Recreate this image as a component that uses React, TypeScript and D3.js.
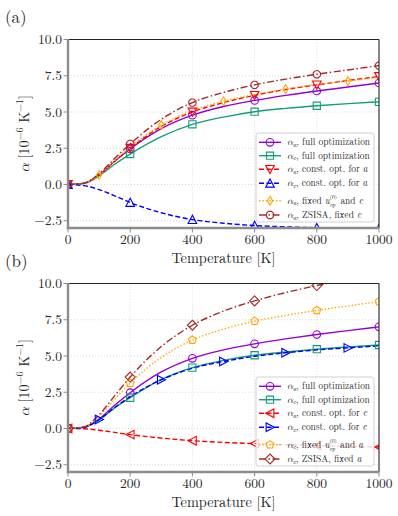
import React from "react";
import * as d3 from "d3";

// ---------- data ----------
const temps = [0, 50, 100, 150, 200, 300, 400, 500, 600, 700, 800, 900, 1000];

// panel (a)
const aPurple = [0, 0.08, 0.65, 1.6, 2.45, 3.85, 4.78, 5.38, 5.8, 6.15, 6.45, 6.72, 7.0];
const aGreen = [0, 0.07, 0.6, 1.4, 2.1, 3.3, 4.15, 4.65, 5.02, 5.25, 5.43, 5.58, 5.7];
const aRed = [0, 0.08, 0.66, 1.6, 2.5, 4.0, 5.0, 5.65, 6.15, 6.55, 6.87, 7.17, 7.45];
const aBlue = [0, -0.08, -0.35, -0.78, -1.24, -1.95, -2.42, -2.67, -2.83, -2.92, -2.98, -3.02, -3.05];
const aOrange = [0, 0.08, 0.65, 1.65, 2.6, 4.1, 5.1, 5.75, 6.2, 6.58, 6.9, 7.13, 7.4];
const aBrown = [0, 0.09, 0.75, 1.8, 2.8, 4.5, 5.65, 6.35, 6.87, 7.27, 7.6, 7.9, 8.2];

// panel (b)
const bPurple = [0, 0.08, 0.65, 1.6, 2.47, 3.9, 4.84, 5.42, 5.84, 6.18, 6.48, 6.75, 7.01];
const bGreen = [0, 0.07, 0.6, 1.42, 2.12, 3.38, 4.2, 4.7, 5.05, 5.28, 5.47, 5.62, 5.76];
const bRed = [0, -0.02, -0.12, -0.27, -0.42, -0.66, -0.84, -0.96, -1.04, -1.11, -1.17, -1.23, -1.28];
const bBlue = [0, 0.07, 0.62, 1.45, 2.2, 3.36, 4.15, 4.62, 4.98, 5.22, 5.42, 5.56, 5.7];
const bOrange = [0, 0.1, 0.85, 2.0, 3.13, 4.9, 6.1, 6.85, 7.4, 7.8, 8.15, 8.45, 8.75];
const bBrown = [0, 0.1, 0.95, 2.25, 3.55, 5.65, 7.12, 8.1, 8.8, 9.37, 9.86, 10.25, 10.6];

const markEven = [0, 200, 400, 600, 800, 1000];
const markOdd = [100, 300, 500, 700, 900];

const xTicks = [0, 200, 400, 600, 800, 1000];
const yTicks = [-2.5, 0, 2.5, 5, 7.5, 10];

type Series = {
  values: number[];
  color: string;
  dash: string;
  marker: string;
  ms: number;
  markAt: number[];
  sub: string;
  text: string;
  fixedU?: string;
};

const seriesA: Series[] = [
  { values: aPurple, color: "#9400d3", dash: "", marker: "o", ms: 3.8, markAt: markEven, sub: "a", text: "full optimization" },
  { values: aGreen, color: "#149e77", dash: "", marker: "s", ms: 3.6, markAt: markEven, sub: "c", text: "full optimization" },
  { values: aRed, color: "#ff0000", dash: "5,2.5", marker: "v", ms: 4.3, markAt: markEven, sub: "a", text: "const. opt. for a" },
  { values: aBlue, color: "#0000ff", dash: "5,2.5", marker: "^", ms: 4.3, markAt: markEven, sub: "c", text: "const. opt. for a" },
  { values: aOrange, color: "#ffa500", dash: "1.4,2", marker: "d", ms: 4.4, markAt: markOdd, sub: "a", text: "", fixedU: "c" },
  { values: aBrown, color: "#a52a2a", dash: "7,2.5,1.5,2.5", marker: "8", ms: 3.9, markAt: markEven, sub: "a", text: "ZSISA, fixed c" },
];

const seriesB: Series[] = [
  { values: bPurple, color: "#9400d3", dash: "", marker: "o", ms: 3.8, markAt: markEven, sub: "a", text: "full optimization" },
  { values: bGreen, color: "#149e77", dash: "", marker: "s", ms: 3.6, markAt: markEven, sub: "c", text: "full optimization" },
  { values: bRed, color: "#ff0000", dash: "5,2.5", marker: "<", ms: 4.3, markAt: markEven, sub: "a", text: "const. opt. for c" },
  { values: bBlue, color: "#0000ff", dash: "5,2.5", marker: ">", ms: 4.3, markAt: markOdd, sub: "c", text: "const. opt. for c" },
  { values: bOrange, color: "#ffa500", dash: "1.4,2", marker: "p", ms: 4.1, markAt: markEven, sub: "c", text: "", fixedU: "a" },
  { values: bBrown, color: "#a52a2a", dash: "7,2.5,1.5,2.5", marker: "D", ms: 5.0, markAt: markEven, sub: "c", text: "ZSISA, fixed a" },
];

// ---------- helpers ----------
const FONT = "'Latin Modern Roman', 'Liberation Serif', serif";
const GREEK = "'Latin Modern Math', 'Latin Modern Roman', 'DejaVu Serif', serif";
const TXT = "#262626";

function polyPath(cx: number, cy: number, pts: [number, number][]) {
  return "M" + pts.map(([x, y]) => `${(cx + x).toFixed(2)},${(cy + y).toFixed(2)}`).join("L") + "Z";
}

function markerPath(type: string, cx: number, cy: number, r: number): string {
  switch (type) {
    case "o":
      return `M${cx - r},${cy}a${r},${r} 0 1,0 ${2 * r},0a${r},${r} 0 1,0 ${-2 * r},0Z`;
    case "s":
      return polyPath(cx, cy, [[-r, -r], [r, -r], [r, r], [-r, r]]);
    case "v":
      return polyPath(cx, cy, [[-r, -r * 0.9], [r, -r * 0.9], [0, r]]);
    case "^":
      return polyPath(cx, cy, [[-r, r * 0.9], [r, r * 0.9], [0, -r]]);
    case "<":
      return polyPath(cx, cy, [[r * 0.9, -r], [r * 0.9, r], [-r, 0]]);
    case ">":
      return polyPath(cx, cy, [[-r * 0.9, -r], [-r * 0.9, r], [r, 0]]);
    case "d":
      return polyPath(cx, cy, [[0, -r], [r * 0.6, 0], [0, r], [-r * 0.6, 0]]);
    case "D":
      return polyPath(cx, cy, [[0, -r], [r, 0], [0, r], [-r, 0]]);
    case "p": {
      const pts: [number, number][] = [];
      for (let i = 0; i < 5; i++) {
        const a = -Math.PI / 2 + (i * 2 * Math.PI) / 5;
        pts.push([r * Math.cos(a), r * Math.sin(a)]);
      }
      return polyPath(cx, cy, pts);
    }
    case "8": {
      const pts: [number, number][] = [];
      for (let i = 0; i < 8; i++) {
        const a = Math.PI / 8 + (i * 2 * Math.PI) / 8;
        pts.push([r * Math.cos(a), r * Math.sin(a)]);
      }
      return polyPath(cx, cy, pts);
    }
  }
  return "";
}

function LegendLabel({ s, x, y }: { s: Series; x: number; y: number }) {
  return (
    <text x={x} y={y + 3.1} fontFamily={FONT} fontSize={9.4} fill={TXT}>
      <tspan fontFamily={GREEK} fontStyle="italic">α</tspan>
      <tspan fontSize={6.5} fontStyle="italic" dy={1.6}>{s.sub}</tspan>
      <tspan dy={-1.6}>, </tspan>
      {s.fixedU ? (
        <>
          <tspan>fixed </tspan>
          <tspan fontStyle="italic">u</tspan>
          <tspan fontSize={5.6} dy={-4.4}>(0)</tspan>
          <tspan fontSize={5.6} fontStyle="italic" dx={-7.2} dy={7.3}>op</tspan>
          <tspan dx={1.8} dy={-2.9}> and </tspan>
          <tspan fontStyle="italic">{s.fixedU}</tspan>
        </>
      ) : (
        <>
          <tspan>{s.text.replace(/ [ac]$/, " ")}</tspan>
          {/ [ac]$/.test(s.text) ? <tspan fontStyle="italic">{s.text.slice(-1)}</tspan> : null}
        </>
      )}
    </text>
  );
}

function Panel({ top, series, label, id }: { top: number; series: Series[]; label: string; id: string }) {
  const left = 68;
  const right = 379;
  const y10 = top;
  const unit = 14.5;
  const x = d3.scaleLinear().domain([0, 1000]).range([left, right]);
  const y = d3.scaleLinear().domain([-3, 10]).range([y10 + 13 * unit, y10]);
  const bottom = y(-3);
  const line = d3
    .line<number>()
    .x((_, i) => x(temps[i]))
    .y((d) => y(d))
    .curve(d3.curveMonotoneX);

  const legTop = bottom - 95;
  const legRows = [9.3, 22.7, 36.3, 50.3, 67.7, 82];

  return (
    <g>
      <text x={5} y={top - 16.5} fontFamily={FONT} fontSize={17} fill={TXT}>
        {label}
      </text>
      <defs>
        <clipPath id={id}>
          <rect x={left} y={y10} width={right - left} height={bottom - y10} />
        </clipPath>
      </defs>
      {/* grid */}
      {xTicks.slice(1, -1).map((t) => (
        <line key={"gx" + t} x1={x(t)} x2={x(t)} y1={y10} y2={bottom} stroke="#cfcfcf" strokeWidth={0.8} strokeDasharray="1,2" />
      ))}
      {yTicks.slice(0, -1).map((t) => (
        <line key={"gy" + t} x1={left} x2={right} y1={y(t)} y2={y(t)} stroke="#cfcfcf" strokeWidth={0.8} strokeDasharray="1,2" />
      ))}
      {/* series */}
      <g clipPath={`url(#${id})`}>
        {series.map((s, i) => (
          <path key={"l" + i} d={line(s.values) || ""} fill="none" stroke={s.color} strokeWidth={1.4} strokeDasharray={s.dash || undefined} />
        ))}
        {series.map((s, i) =>
          s.markAt.map((t) => {
            const idx = temps.indexOf(t);
            return (
              <path key={"m" + i + "-" + t} d={markerPath(s.marker, x(t), y(s.values[idx]), s.ms)} fill="none" stroke={s.color} strokeWidth={1.1} />
            );
          })
        )}
      </g>
      {/* spines */}
      <line x1={left} x2={right} y1={y10} y2={y10} stroke="#222" strokeWidth={1.1} />
      <line x1={right} x2={right} y1={y10} y2={bottom} stroke="#222" strokeWidth={1.1} />
      <line x1={left} x2={left} y1={y10 - 0.5} y2={bottom + 1.2} stroke="#8c8c8c" strokeWidth={2.4} />
      <line x1={left - 1.2} x2={right} y1={bottom} y2={bottom} stroke="#8c8c8c" strokeWidth={2.4} />
      {/* ticks */}
      {yTicks.map((t) => (
        <g key={"ty" + t}>
          <line x1={left - 4.5} x2={left} y1={y(t)} y2={y(t)} stroke="#8c8c8c" strokeWidth={1} />
          <text x={left - 6} y={y(t) + 4.6} textAnchor="end" fontFamily={FONT} fontSize={13.5} fill={TXT}>
            {t < 0 ? "−" + Math.abs(t).toFixed(1) : t.toFixed(1)}
          </text>
        </g>
      ))}
      {xTicks.map((t) => (
        <g key={"tx" + t}>
          <line x1={x(t)} x2={x(t)} y1={bottom} y2={bottom + 4.5} stroke="#8c8c8c" strokeWidth={1} />
          <text x={x(t)} y={bottom + 15.5} textAnchor="middle" fontFamily={FONT} fontSize={13.5} fill={TXT}>
            {t}
          </text>
        </g>
      ))}
      {/* axis labels */}
      <text x={(left + right) / 2} y={bottom + 35} textAnchor="middle" fontFamily={FONT} fontSize={14.3} fill={TXT}>
        Temperature [K]
      </text>
      <text
        transform={`translate(28.5,${(y10 + bottom) / 2}) rotate(-90)`}
        textAnchor="middle"
        fontFamily={FONT}
        fontSize={14.3}
        fill={TXT}
      >
        <tspan fontFamily={GREEK} fontStyle="italic">α</tspan>
        <tspan> [10</tspan>
        <tspan fontSize={10} dy={-5.5}>−6</tspan>
        <tspan dy={5.5}> K</tspan>
        <tspan fontSize={10} dy={-5.5}>−1</tspan>
        <tspan dy={5.5}>]</tspan>
      </text>
      {/* legend */}
      <rect x={256} y={legTop} width={118} height={89} rx={2.5} fill="white" fillOpacity={0.8} stroke="#cccccc" strokeWidth={0.9} />
      {series.map((s, i) => {
        const ry = legTop + legRows[i];
        return (
          <g key={"lg" + i}>
            <line x1={259} x2={281} y1={ry} y2={ry} stroke={s.color} strokeWidth={1.4} strokeDasharray={s.dash || undefined} />
            <path d={markerPath(s.marker, 270, ry, s.ms)} fill="none" stroke={s.color} strokeWidth={1.1} />
            <LegendLabel s={s} x={287} y={ry} />
          </g>
        );
      })}
    </g>
  );
}

export default function App() {
  return (
    <svg width={398} height={516} style={{ position: "absolute", left: 0, top: 0, background: "white" }}>
      <Panel top={39.5} series={seriesA} label="(a)" id="clipA" />
      <Panel top={283.5} series={seriesB} label="(b)" id="clipB" />
    </svg>
  );
}
